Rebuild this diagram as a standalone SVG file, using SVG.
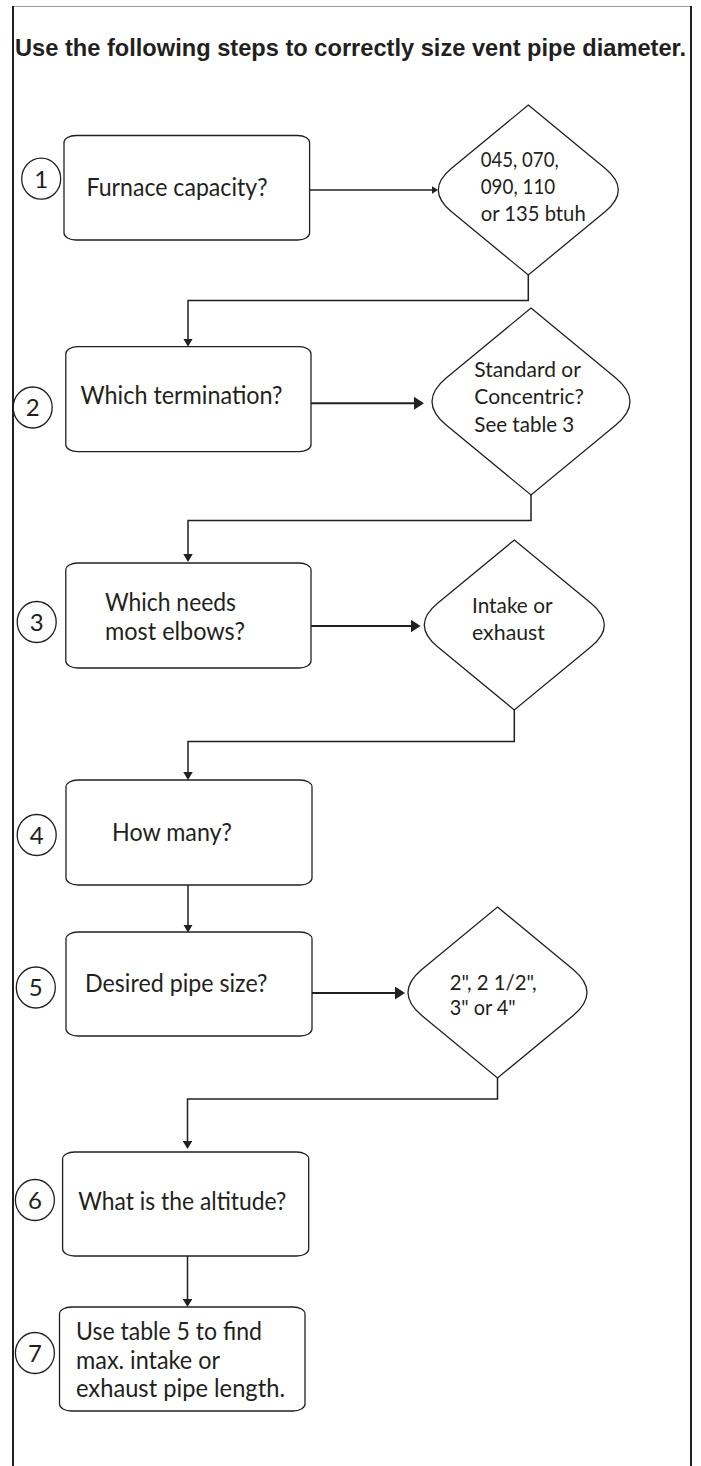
<svg xmlns="http://www.w3.org/2000/svg" width="701" height="1466" viewBox="0 0 701 1466">
<defs>
<style>
.frame{stroke:#231f20;stroke-width:2;fill:none}
.topline{stroke:#9a9a9a;stroke-width:1.2;fill:none}
.box{fill:#fff;stroke:#231f20;stroke-width:1.3}
.dia{fill:#fff;stroke:#231f20;stroke-width:1.3}
.num{fill:none;stroke:#231f20;stroke-width:1.3}
.conn{fill:none;stroke:#231f20;stroke-width:1.5}
.thick{fill:none;stroke:#231f20;stroke-width:2}
.title{font-family:"Liberation Sans",Arial,sans-serif;font-weight:bold;font-size:24px;fill:#231f20}
.t{font-family:Lato,"Open Sans",sans-serif;font-size:24.5px;fill:#231f20}
.td{font-family:Lato,"Open Sans",sans-serif;font-size:20.5px;fill:#231f20}
.n{font-family:Lato,"Open Sans",sans-serif;font-size:24px;fill:#231f20;text-anchor:middle}
</style>
<marker id="arrSm" viewBox="0 0 8 9.5" refX="5" refY="4.75" markerWidth="8" markerHeight="9.5" markerUnits="userSpaceOnUse" orient="auto">
<path d="M0,0 L8,4.75 L0,9.5 Z" fill="#231f20"/>
</marker>
<marker id="arrLg" viewBox="0 0 10 13" refX="6" refY="6.5" markerWidth="10" markerHeight="13" markerUnits="userSpaceOnUse" orient="auto">
<path d="M0,0 L10,6.5 L0,13 Z" fill="#231f20"/>
</marker>
<marker id="arrXs" viewBox="0 0 6.5 8" refX="3.5" refY="4" markerWidth="6.5" markerHeight="8" markerUnits="userSpaceOnUse" orient="auto">
<path d="M0,0 L6.5,4 L0,8 Z" fill="#231f20"/>
</marker>
</defs>
<rect x="0" y="0" width="701" height="1466" fill="#fff"/>
<g id="frame">
<line class="topline" x1="13" y1="6.5" x2="691" y2="6.5"/>
<line class="frame" x1="13" y1="6" x2="13" y2="1466"/>
<line class="frame" x1="691" y1="6" x2="691" y2="1466"/>
</g>
<text id="title" class="title" x="15" y="56" textLength="671" lengthAdjust="spacingAndGlyphs">Use the following steps to correctly size vent pipe diameter.</text>
<g id="connectors">
<line x1="309.6" y1="190" x2="435" y2="190" class="conn" marker-end="url(#arrXs)"/>
<path d="M528.3,275 V300.5 H188 V343.7" class="conn" marker-end="url(#arrSm)"/>
<line x1="311" y1="403.3" x2="420" y2="403.3" class="thick" marker-end="url(#arrLg)"/>
<path d="M531,495 V520.5 H188 V559" class="conn" marker-end="url(#arrSm)"/>
<line x1="311" y1="626" x2="416.6" y2="626" class="thick" marker-end="url(#arrLg)"/>
<path d="M514.3,710 V741.5 H188 V777" class="conn" marker-end="url(#arrSm)"/>
<path d="M188,885 V929.5" class="conn" marker-end="url(#arrSm)"/>
<line x1="312" y1="993" x2="401" y2="993" class="thick" marker-end="url(#arrLg)"/>
<path d="M497.5,1078 V1099 H187.5 V1146" class="conn" marker-end="url(#arrSm)"/>
<path d="M187.5,1256 V1304" class="conn" marker-end="url(#arrSm)"/>
</g>
<g id="step1">
<ellipse class="num" cx="41.2" cy="178.7" rx="19.5" ry="20.5"/>
<text class="n" x="41.2" y="187.5">1</text>
</g>
<g id="box1">
<rect class="box" x="64" y="135.5" width="245.6" height="104.5" rx="12" ry="7"/>
<text class="t" x="86.5" y="195.5" textLength="181" lengthAdjust="spacingAndGlyphs">Furnace capacity?</text>
</g>
<g id="dec1">
<path class="dia" d="M528.3,105 L605.3,168.5 Q631.3,190 605.3,211.5 L528.3,275 L451.3,211.5 Q425.3,190 451.3,168.5 Z"/>
<text class="td" x="480.7" y="166.7" textLength="78" lengthAdjust="spacingAndGlyphs">045, 070,</text>
<text class="td" x="480.7" y="194" textLength="74.5" lengthAdjust="spacingAndGlyphs">090, 110</text>
<text class="td" x="480.7" y="220.7" textLength="105" lengthAdjust="spacingAndGlyphs">or 135 btuh</text>
</g>
<g id="step2">
<ellipse class="num" cx="32.7" cy="407.5" rx="19.5" ry="20.5"/>
<text class="n" x="32.7" y="416">2</text>
</g>
<g id="box2">
<rect class="box" x="65.8" y="346.7" width="245.2" height="105" rx="12" ry="7"/>
<text class="t" x="80.5" y="403.5" textLength="202" lengthAdjust="spacingAndGlyphs">Which termination?</text>
</g>
<g id="dec2">
<path class="dia" d="M531,308 L615.8,378 Q644.2,401.5 615.8,425 L531,495 L446.2,425 Q417.8,401.5 446.2,378 Z"/>
<text class="td" x="474.3" y="377" textLength="106.5" lengthAdjust="spacingAndGlyphs">Standard or</text>
<text class="td" x="474.3" y="404" textLength="109.5" lengthAdjust="spacingAndGlyphs">Concentric?</text>
<text class="td" x="474.3" y="431.7" textLength="100" lengthAdjust="spacingAndGlyphs">See table 3</text>
</g>
<g id="step3">
<ellipse class="num" cx="36.7" cy="622" rx="19.5" ry="20.5"/>
<text class="n" x="36.7" y="630.5">3</text>
</g>
<g id="box3">
<rect class="box" x="65.8" y="563" width="245.2" height="105" rx="12" ry="7"/>
<text class="t" x="105" y="610.5" textLength="131" lengthAdjust="spacingAndGlyphs">Which needs</text>
<text class="t" x="105" y="640" textLength="140" lengthAdjust="spacingAndGlyphs">most elbows?</text>
</g>
<g id="dec3">
<path class="dia" d="M514.3,540 L591.3,603.5 Q617.3,625 591.3,646.5 L514.3,710 L437.3,646.5 Q411.3,625 437.3,603.5 Z"/>
<text class="td" x="472" y="613" textLength="80.5" lengthAdjust="spacingAndGlyphs">Intake or</text>
<text class="td" x="472" y="640" textLength="73" lengthAdjust="spacingAndGlyphs">exhaust</text>
</g>
<g id="step4">
<ellipse class="num" cx="36.7" cy="835" rx="19.5" ry="20.5"/>
<text class="n" x="36.7" y="843.5">4</text>
</g>
<g id="box4">
<rect class="box" x="66" y="780" width="246" height="105" rx="12" ry="7"/>
<text class="t" x="112" y="841" textLength="120" lengthAdjust="spacingAndGlyphs">How many?</text>
</g>
<g id="step5">
<ellipse class="num" cx="35.8" cy="987.5" rx="19.5" ry="20.5"/>
<text class="n" x="35.8" y="996">5</text>
</g>
<g id="box5">
<rect class="box" x="66" y="932" width="246" height="104" rx="12" ry="7"/>
<text class="t" x="85" y="991.5" textLength="182.5" lengthAdjust="spacingAndGlyphs">Desired pipe size?</text>
</g>
<g id="dec5">
<path class="dia" d="M497.5,907 L573.5,969.7 Q600.5,992.5 573.5,1015.3 L497.5,1078 L421.5,1015.3 Q394.5,992.5 421.5,969.7 Z"/>
<text class="td" x="449.7" y="990" textLength="87" lengthAdjust="spacingAndGlyphs">2&quot;, 2 1/2&quot;,</text>
<text class="td" x="449.7" y="1015" textLength="66" lengthAdjust="spacingAndGlyphs">3&quot; or 4&quot;</text>
</g>
<g id="step6">
<ellipse class="num" cx="34.9" cy="1200" rx="19.5" ry="20.5"/>
<text class="n" x="34.9" y="1208.5">6</text>
</g>
<g id="box6">
<rect class="box" x="62.6" y="1152" width="246.1" height="104" rx="12" ry="7"/>
<text class="t" x="78.3" y="1210" textLength="208" lengthAdjust="spacingAndGlyphs">What is the altitude?</text>
</g>
<g id="step7">
<ellipse class="num" cx="34.9" cy="1353" rx="19.5" ry="20.5"/>
<text class="n" x="34.9" y="1361.5">7</text>
</g>
<g id="box7">
<rect class="box" x="59.5" y="1307" width="245.5" height="104" rx="12" ry="7"/>
<text class="t" x="76" y="1340" textLength="186" lengthAdjust="spacingAndGlyphs">Use table 5 to find</text>
<text class="t" x="76" y="1368.5" textLength="144" lengthAdjust="spacingAndGlyphs">max. intake or</text>
<text class="t" x="76" y="1397" textLength="209" lengthAdjust="spacingAndGlyphs">exhaust pipe length.</text>
</g>
</svg>
